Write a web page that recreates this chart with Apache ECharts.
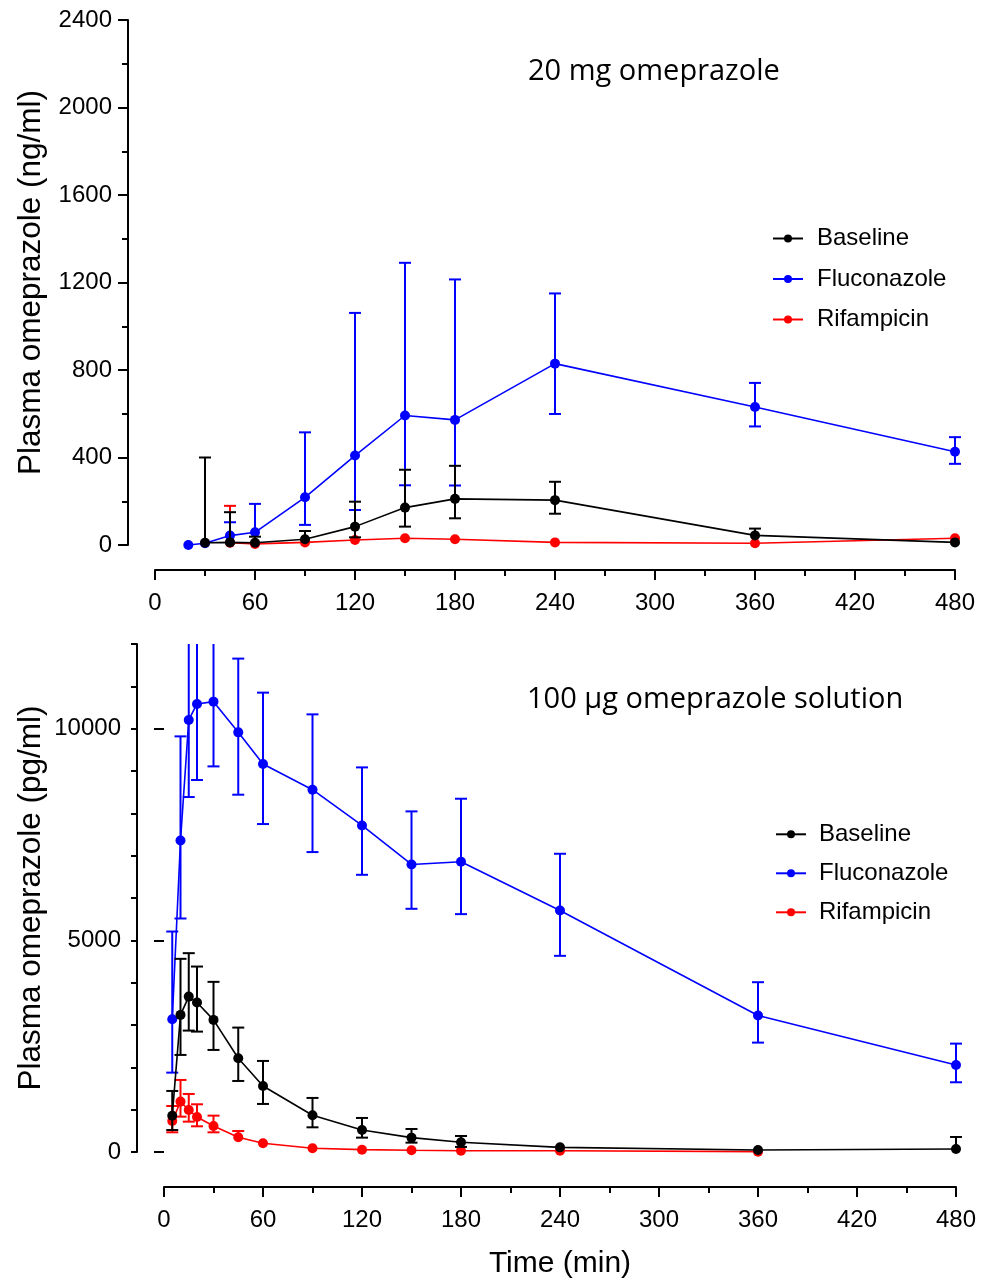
<!DOCTYPE html>
<html>
<head>
<meta charset="utf-8">
<script src="https://cdn.jsdelivr.net/npm/echarts@6/dist/echarts.min.js"></script>
<style>
html,body{margin:0;padding:0;background:#fff;}
#chart{width:989px;height:1278px;}
</style>
</head>
<body>
<div id="chart"></div>
<script>
// ---------- names / colours ----------
const seriesNames = ['Baseline', 'Fluconazole', 'Rifampicin'];
const seriesColors = ['#000000', '#0000ff', '#ff0000'];
const titleTop = '20 mg omeprazole';
const titleBottom = '100 µg omeprazole solution';
const yTitleTop = 'Plasma omeprazole (ng/ml)';
const yTitleBottom = 'Plasma omeprazole (pg/ml)';
const xTitle = 'Time (min)';

// ---------- top panel: 20 mg omeprazole (ng/ml) ----------
const topBaseTime = [30, 45, 60, 90, 120, 150, 180, 240, 360, 480];
const topBaseMean = [10, 12, 10, 26, 84, 171, 211, 205, 44, 12];
const topBaseHi   = [400, 150, 38, 64, 198, 344, 362, 289, 75, 12];
const topBaseLo   = [10, 12, 10, 26, 35, 84, 122, 143, 44, 12];

const topFluTime = [20, 30, 45, 60, 90, 120, 150, 180, 240, 360, 480];
const topFluMean = [0, 8, 43, 58, 218, 409, 592, 572, 829, 631, 426];
const topFluHi   = [0, 8, 104, 188, 515, 1061, 1290, 1214, 1150, 741, 493];
const topFluLo   = [0, 8, 43, 58, 92, 160, 273, 272, 599, 542, 371];

const topRifTime = [45, 60, 90, 120, 150, 180, 240, 360, 480];
const topRifMean = [10, 5, 12, 23, 31, 26, 12, 8, 31];
const topRifHi   = [179, 5, 12, 23, 31, 26, 12, 8, 31];
const topRifLo   = [10, 5, 12, 23, 31, 26, 12, 8, 31];

// ---------- bottom panel: 100 µg solution (pg/ml) ----------
const botBaseTime = [5, 10, 15, 20, 30, 45, 60, 90, 120, 150, 180, 240, 360, 480];
const botBaseMean = [858, 3239, 3671, 3530, 3121, 2215, 1560, 867, 520, 339, 229, 110, 47, 71];
const botBaseHi   = [1442, 4563, 4697, 4381, 4019, 2939, 2151, 1277, 804, 544, 378, 110, 47, 355];
const botBaseLo   = [520, 2293, 2868, 2844, 2411, 1678, 1135, 583, 339, 221, 120, 110, 47, 71];

const botFluTime = [5, 10, 15, 20, 30, 45, 60, 90, 120, 150, 180, 240, 360, 480];
const botFluMean = [3137, 7359, 10205, 10584, 10638, 9913, 9165, 8558, 7714, 6793, 6856, 5705, 3223, 2057];
const botFluHi   = [5208, 9818, 12025, 12381, 12167, 11655, 10851, 10338, 9085, 8046, 8345, 7045, 4011, 2560];
const botFluLo   = [1875, 5516, 8385, 8787, 9109, 8440, 7747, 7085, 6548, 5745, 5619, 4634, 2584, 1647];

const botRifTime = [5, 10, 15, 20, 30, 45, 60, 90, 120, 150, 180, 240, 360];
const botRifMean = [733, 1190, 993, 827, 615, 347, 205, 87, 55, 40, 31, 31, 8];
const botRifHi   = [1087, 1702, 1371, 1127, 859, 496, 205, 87, 55, 40, 31, 31, 8];
const botRifLo   = [465, 835, 717, 607, 465, 347, 205, 87, 55, 40, 31, 31, 8];

// ---------- tick values ----------
const xTickInterval = 60;
const topYInterval = 400;
const botYMinorInterval = 1000;
const botYLabels = [0, 5000, 10000];

// ---------- build ----------
const panels = [
  { grid: 0, y: 0, sets: [
    [topBaseTime, topBaseMean, topBaseHi, topBaseLo],
    [topFluTime, topFluMean, topFluHi, topFluLo],
    [topRifTime, topRifMean, topRifHi, topRifLo]] },
  { grid: 1, y: 1, sets: [
    [botBaseTime, botBaseMean, botBaseHi, botBaseLo],
    [botFluTime, botFluMean, botFluHi, botFluLo],
    [botRifTime, botRifMean, botRifHi, botRifLo]] }
];

const drawOrder = [2, 1, 0]; // red, blue, black (black on top)
const series = [];
panels.forEach(p => {
  drawOrder.forEach((k, ord) => {
    const [t, m, hi, lo] = p.sets[k];
    const color = seriesColors[k];
    series.push({
      name: seriesNames[k],
      type: 'line',
      xAxisIndex: p.grid,
      yAxisIndex: p.y,
      data: t.map((tt, i) => [tt, m[i]]),
      symbol: 'circle',
      symbolSize: 10,
      showSymbol: true,
      color: color,
      itemStyle: { color: color },
      lineStyle: { color: color, width: 1.6 },
      z: 10 + ord * 2,
      animation: false,
      clip: false
    });
  });
  drawOrder.forEach((k, ord) => {
    const [t, m, hi, lo] = p.sets[k];
    const color = seriesColors[k];
    series.push({
      name: seriesNames[k] + ' SD',
      type: 'custom',
      xAxisIndex: p.grid,
      yAxisIndex: p.y,
      clip: false,
      data: t.map((tt, i) => [tt, lo[i], hi[i], m[i]]),
      encode: { x: 0, y: [1, 2] },
      z: 9 + ord * 2,
      animation: false,
      renderItem: (params, api) => {
        const x = api.value(0), l = api.value(1), h = api.value(2), mm = api.value(3);
        const cs = params.coordSys;
        const pH = api.coord([x, h]);
        const pL = api.coord([x, l]);
        let hiClamped = false;
        if (pH[1] < cs.y) { pH[1] = cs.y; hiClamped = true; }
        if (pL[1] > cs.y + cs.height) { pL[1] = cs.y + cs.height; }
        const w = 6;
        const st = { stroke: color, lineWidth: 2, fill: null };
        const children = [];
        if (h - mm > 0.5 || mm - l > 0.5) {
          children.push({ type: 'line', shape: { x1: pH[0], y1: pH[1], x2: pL[0], y2: pL[1] }, style: st });
        }
        if (h - mm > 0.5 && !hiClamped) children.push({ type: 'line', shape: { x1: pH[0] - w, y1: pH[1], x2: pH[0] + w, y2: pH[1] }, style: st });
        if (mm - l > 0.5) children.push({ type: 'line', shape: { x1: pL[0] - w, y1: pL[1], x2: pL[0] + w, y2: pL[1] }, style: st });
        return { type: 'group', children: children };
      }
    });
  });
});

const axisFont = 'Liberation Sans, Arial, sans-serif';
const lineSt = { color: '#000', width: 2 };
const plainNum = v => String(v);
function xAxisCfg(grid, offset, margin, withName) {
  const a = {
    gridIndex: grid, type: 'value', min: 0, max: 480, interval: xTickInterval,
    offset: offset,
    axisLine: { show: true, onZero: false, lineStyle: lineSt },
    axisTick: { show: true, length: 10, lineStyle: lineSt },
    minorTick: { show: true, splitNumber: 2, length: 6, lineStyle: lineSt },
    splitLine: { show: false }, minorSplitLine: { show: false },
    axisLabel: { fontSize: 24, color: '#000', margin: margin, fontFamily: axisFont, formatter: plainNum }
  };
  if (withName) {
    a.name = xTitle; a.nameLocation = 'middle'; a.nameGap = 61;
    a.nameTextStyle = { fontSize: 30, color: '#000', fontFamily: axisFont, lineHeight: 32 };
  }
  return a;
}

const option = {
  backgroundColor: '#ffffff',
  animation: false,
  title: [
    { text: titleTop, left: 528, top: 57, padding: 0,
      textStyle: { fontFamily: 'Open Sans', fontSize: 29, fontWeight: 'normal', color: '#000' } },
    { text: titleBottom, left: 527, top: 685, padding: 0,
      textStyle: { fontFamily: 'Open Sans', fontSize: 29, fontWeight: 'normal', color: '#000' } }
  ],
  legend: [
    { data: seriesNames, orient: 'vertical', left: 772, top: 226.5, padding: 0,
      itemWidth: 30, itemHeight: 10, itemGap: 16.5,
      textStyle: { fontSize: 24, color: '#000', fontFamily: axisFont, lineHeight: 24, padding: [0, 0, 0, 9] } },
    { data: seriesNames, orient: 'vertical', left: 775, top: 822.3, padding: 0,
      itemWidth: 30, itemHeight: 10, itemGap: 15,
      textStyle: { fontSize: 24, color: '#000', fontFamily: axisFont, lineHeight: 24, padding: [0, 0, 0, 8] } }
  ],
  grid: [
    { left: 155, right: 34, top: 20, height: 525, containLabel: false, outerBoundsMode: 'none' },
    { left: 164, right: 33, top: 644, height: 508, containLabel: false, outerBoundsMode: 'none' }
  ],
  xAxis: [xAxisCfg(0, 25, 21, false), xAxisCfg(1, 35, 21, true)],
  yAxis: [
    { gridIndex: 0, type: 'value', position: 'left', min: 0, max: 2400, interval: topYInterval, offset: 27,
      axisLine: { show: true, onZero: false, lineStyle: lineSt },
      axisTick: { show: true, length: 10, lineStyle: lineSt },
      minorTick: { show: true, splitNumber: 2, length: 6, lineStyle: lineSt },
      splitLine: { show: false },
      axisLabel: { fontSize: 24, color: '#000', margin: 16, fontFamily: axisFont, formatter: plainNum },
      name: yTitleTop, nameLocation: 'middle', nameGap: 81,
      nameTextStyle: { fontSize: 31.5, color: '#000', fontFamily: axisFont, lineHeight: 32 } },
    { gridIndex: 1, type: 'value', position: 'left', min: 0, max: 12000, interval: botYMinorInterval, offset: 27,
      axisLine: { show: true, onZero: false, lineStyle: lineSt },
      axisTick: { show: true, length: 6, lineStyle: lineSt },
      splitLine: { show: false },
      axisLabel: { show: false },
      name: yTitleBottom, nameLocation: 'middle', nameGap: 90,
      nameTextStyle: { fontSize: 31.5, color: '#000', fontFamily: axisFont, lineHeight: 32 } },
    { gridIndex: 1, type: 'value', position: 'left', min: 0, max: 12000, interval: 5000, offset: 27,
      axisLine: { show: false },
      axisTick: { show: true, length: 10, lineStyle: lineSt, customValues: botYLabels },
      splitLine: { show: false },
      axisLabel: { show: true, fontSize: 24, color: '#000', margin: 16, fontFamily: axisFont, customValues: botYLabels, formatter: plainNum } }
  ],
  series: series
};

const chart = echarts.init(document.getElementById('chart'), null, { renderer: 'canvas' });
chart.setOption(option);
</script>
</body>
</html>
